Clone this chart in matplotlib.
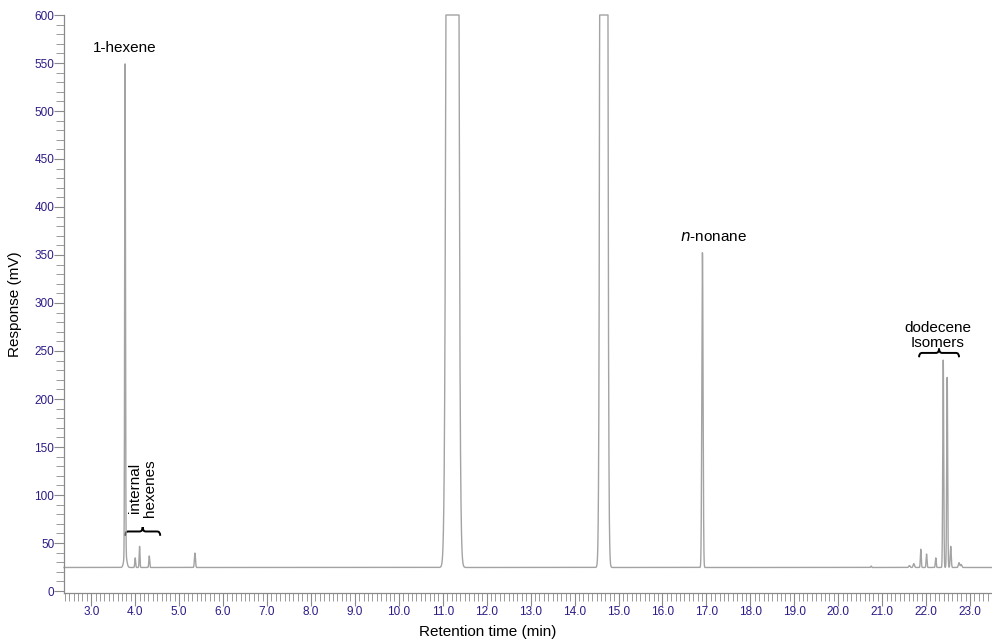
import numpy as np
import matplotlib.pyplot as plt
from matplotlib.path import Path
from matplotlib.patches import PathPatch
from matplotlib.ticker import MultipleLocator

plt.rcParams['font.family'] = ['Liberation Sans', 'DejaVu Sans']

# peak table: retention time (min), height (mV), width (sigma, min)
peak_times = [3.77, 3.775, 4.00, 4.10, 4.32, 5.36,
              11.22, 14.665,
              16.91,
              20.75, 21.62, 21.72, 21.88, 22.01, 22.22, 22.39, 22.48, 22.56, 22.75, 22.80]
peak_heights = [510, 15, 10, 22, 12, 15,
                13400, 13400,
                328,
                1.5, 2, 4, 19, 14, 10, 216, 198, 22, 5, 3]
peak_widths = [0.009, 0.03, 0.01, 0.009, 0.01, 0.012,
               0.06, 0.038,
               0.014,
               0.01, 0.015, 0.015, 0.01, 0.01, 0.01, 0.011, 0.011, 0.012, 0.015, 0.015]
baseline = 24.5
detector_max = 600

t = np.linspace(2.38, 23.5, 30000)
signal = np.full_like(t, baseline)
for c, h, w in zip(peak_times, peak_heights, peak_widths):
    signal += h * np.exp(-0.5 * ((t - c) / w) ** 2)
signal = np.minimum(signal, detector_max)

fig = plt.figure(figsize=(9.92, 6.39), dpi=100)
ax = fig.add_axes([64 / 992, 1 - 593.4 / 639, 1 - 64 / 992, (593.4 - 15) / 639])

ax.plot(t, signal, color='#a3a3a3', lw=1.0, clip_on=False)
ax.set_xlim(2.38, 23.5)
ax.set_ylim(-2.5, 600)

for s in ['top', 'right']:
    ax.spines[s].set_visible(False)
for s in ['left', 'bottom']:
    ax.spines[s].set_color('#8a8a8a')
    ax.spines[s].set_linewidth(0.9)

ax.xaxis.set_major_locator(MultipleLocator(1.0))
ax.xaxis.set_minor_locator(MultipleLocator(0.1))
ax.yaxis.set_major_locator(MultipleLocator(50))
ax.yaxis.set_minor_locator(MultipleLocator(10))
ax.xaxis.set_major_formatter(lambda v, p: f'{v:.1f}')
ax.tick_params(axis='x', which='major', length=9, width=0.8, color='#8a8a8a',
               labelsize=8.5, labelcolor='#2e1a87', pad=0)
ax.tick_params(axis='x', which='minor', length=6, width=0.7, color='#9a9a9a')
ax.tick_params(axis='y', which='major', length=7, width=0.8, color='#8a8a8a',
               labelsize=8.5, labelcolor='#2e1a87', pad=0)
ax.tick_params(axis='y', which='minor', length=6, width=0.7, color='#9a9a9a')

ax.set_xlabel('Retention time (min)', fontsize=11)
ax.xaxis.set_label_coords(0.457, -0.055)
ax.set_ylabel('Response (mV)', fontsize=11, labelpad=9)


def brace(x0, x1, y, d=4.5, q=0.07):
    xm = (x0 + x1) / 2
    verts = [(x0, y - d), (x0, y), (x0 + q, y),
             (xm - q, y), (xm, y), (xm, y + d),
             (xm, y), (xm + q, y),
             (x1 - q, y), (x1, y), (x1, y - d)]
    codes = [Path.MOVETO, Path.CURVE3, Path.CURVE3,
             Path.LINETO, Path.CURVE3, Path.CURVE3,
             Path.CURVE3, Path.CURVE3,
             Path.LINETO, Path.CURVE3, Path.CURVE3]
    ax.add_patch(PathPatch(Path(verts, codes), fc='none', ec='black', lw=1.4))


ax.text(3.77, 566, '1-hexene', ha='center', va='center', fontsize=11)
ax.text(17.16, 369, r'$\it{n}$-nonane', ha='center', va='center', fontsize=11)
ax.text(22.27, 266, 'dodecene\nIsomers', ha='center', va='center', fontsize=11,
        linespacing=1.1)
ax.text(4.17, 77, 'internal\nhexenes', ha='center', va='bottom', fontsize=11,
        rotation=90, linespacing=1.1)
brace(3.77, 4.57, 62)
brace(21.84, 22.75, 248)

fig.savefig('out.png', dpi=100)
